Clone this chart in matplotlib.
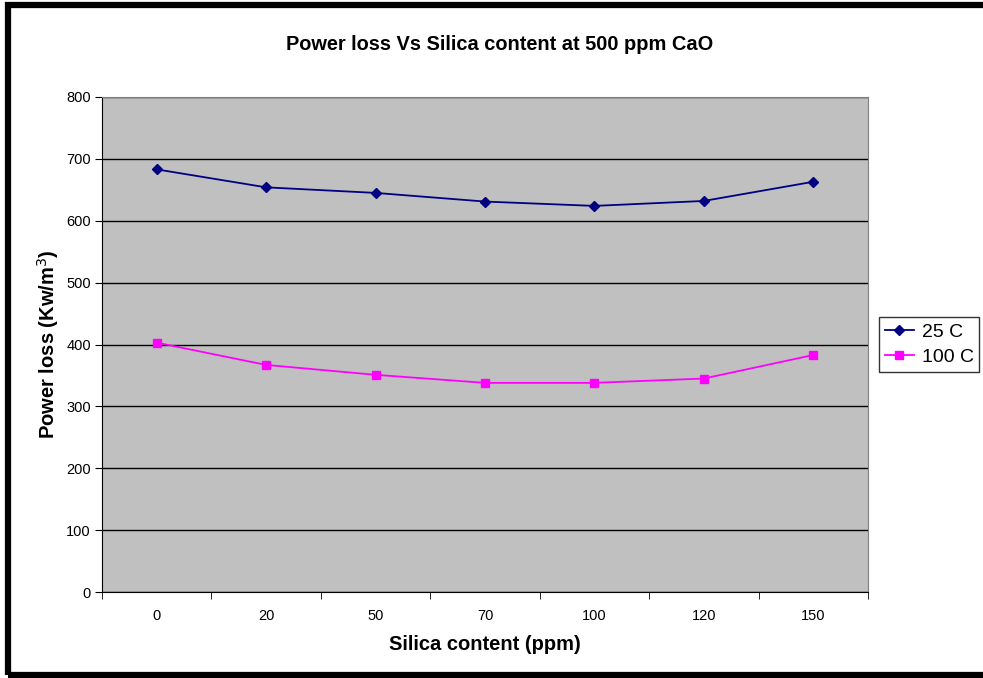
import numpy as np
import matplotlib.pyplot as plt
from matplotlib.patches import Rectangle

plt.rcParams['font.family'] = ['Liberation Sans', 'DejaVu Sans']

# data
silica = ['0', '20', '50', '70', '100', '120', '150']
loss_25C = [683, 654, 645, 631, 624, 632, 663]
loss_100C = [403, 367, 351, 338, 338, 345, 383]
y_ticks = [0, 100, 200, 300, 400, 500, 600, 700, 800]

fig = plt.figure(figsize=(9.83, 6.78), dpi=100)
ax = fig.add_axes([102/983, 86/678, 766/983, 495/678])
ax.set_facecolor('#C0C0C0')

x = np.arange(len(silica))
ax.plot(x, loss_25C, color='#000080', marker='D', markersize=5, lw=1.3, label='25 C')
ax.plot(x, loss_100C, color='#FF00FF', marker='s', markersize=6, lw=1.3, label='100 C')

ax.set_xlim(-0.5, len(silica) - 0.5)
ax.set_ylim(0, 800)
ax.set_yticks(y_ticks)
ax.grid(axis='y', color='black', lw=1)
ax.set_axisbelow(True)

ax.set_xticks(x)
ax.set_xticklabels(silica)
ax.set_xticks(np.arange(-0.5, len(silica)), minor=True)
ax.tick_params(axis='x', which='major', length=0, pad=12, labelsize=10.5)
ax.tick_params(axis='x', which='minor', length=5, color='black')
ax.tick_params(axis='y', length=5, labelsize=10.5, pad=3)

for s in ['top', 'right']:
    ax.spines[s].set_color('#808080')
for s in ['left', 'bottom']:
    ax.spines[s].set_color('black')

fig.text(500/983, 1 - 45/678, 'Power loss Vs Silica content at 500 ppm CaO',
         fontsize=14.4, fontweight='bold', ha='center', va='center')
ax.set_xlabel('Silica content (ppm)', fontsize=14.5, fontweight='bold', labelpad=9)
ax.set_ylabel('Power loss (Kw/m$^3$)', fontsize=14.5, fontweight='bold', labelpad=4)

leg = ax.legend(loc='center left', bbox_to_anchor=(1.014, 0.5), frameon=True,
                fancybox=False, edgecolor='black', fontsize=14,
                handlelength=1.5, borderpad=0.3, labelspacing=0.4,
                handletextpad=0.4, borderaxespad=0)
leg.get_frame().set_linewidth(1)

# outer chart border
fig.patches.append(Rectangle((8/983, 3/678), 985/983, 670/678, transform=fig.transFigure,
                             fill=False, edgecolor='black', lw=4.5))

fig.savefig('out.png', dpi=100)
